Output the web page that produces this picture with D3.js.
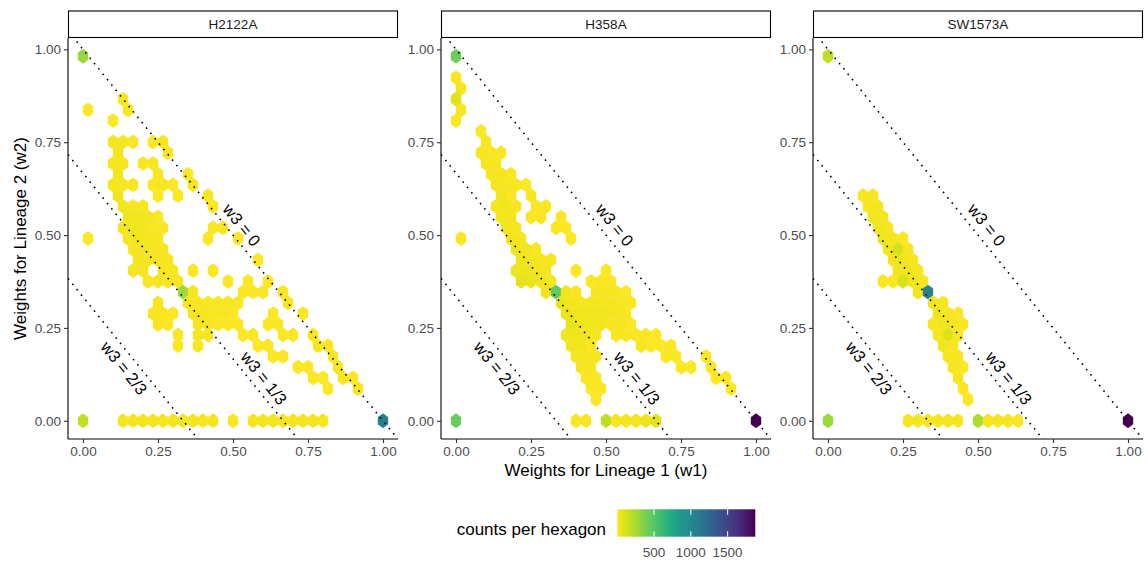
<!DOCTYPE html>
<html>
<head>
<meta charset="utf-8">
<script src="https://cdn.jsdelivr.net/npm/d3@7"></script>
<style>
  body { margin: 0; background: #fff; }
  text { font-family: "Liberation Sans", Arial, Helvetica, sans-serif; }
</style>
</head>
<body>
<svg id="chart" width="1148" height="561"></svg>
<script>
// facets
const panelNames = ['H2122A', 'H358A', 'SW1573A'];
const xTicks = [0, 0.25, 0.5, 0.75, 1];
const yTicks = [0, 0.25, 0.5, 0.75, 1];
const legendTicks = [500, 1000, 1500];
const countRange = [1, 1876];

// reference lines w1 + w2 = 1 - w3
const guideW3 = [0, 1 / 3, 2 / 3];
const guideLabels = ['w3 = 0', 'w3 = 1/3', 'w3 = 2/3'];
const guideLabelW1 = [0.529, 0.603, 0.137];
const guideLabelW2 = [0.527, 0.115, 0.142];

// hexbin cells: [column (w1 = col/60), row (w2 = row * sqrt(3)/60), count]
const h2122aBins = [
  [0,34,290],
  [8,30,20],
  [1,29,15],[9,29,20],
  [6,28,15],
  [6,26,30],[8,26,25],[10,26,20],[14,26,15],[16,26,20],
  [7,25,40],[17,25,15],
  [6,24,30],[8,24,20],[12,24,15],[14,24,20],
  [7,23,35],[15,23,20],[21,23,15],
  [6,22,30],[8,22,25],[10,22,20],[14,22,15],[16,22,20],[18,22,15],[22,22,20],
  [7,21,40],[15,21,15],[19,21,15],[25,21,20],
  [8,20,40],[10,20,30],[12,20,20],[26,20,15],
  [9,19,50],[11,19,40],[13,19,25],[15,19,15],
  [8,18,30],[10,18,50],[12,18,40],[14,18,20],[16,18,15],[26,18,15],[28,18,20],
  [1,17,15],[9,17,20],[11,17,45],[13,17,30],[15,17,20],[25,17,15],[31,17,15],
  [10,16,30],[12,16,40],[14,16,30],[16,16,20],
  [11,15,35],[13,15,30],[15,15,25],[17,15,20],[35,15,15],
  [10,14,25],[12,14,30],[16,14,25],[18,14,20],[22,14,15],[26,14,15],
  [13,13,20],[15,13,25],[17,13,30],[19,13,25],[29,13,15],[33,13,15],[37,13,15],
  [20,12,280],[22,12,30],[32,12,15],[34,12,15],[36,12,15],[40,12,20],
  [15,11,20],[21,11,25],[23,11,25],[25,11,20],[27,11,20],[29,11,20],[31,11,15],[41,11,20],
  [14,10,20],[16,10,20],[18,10,15],[22,10,30],[24,10,25],[26,10,20],[28,10,20],[30,10,15],[38,10,15],[44,10,20],
  [15,9,20],[17,9,15],[23,9,30],[25,9,20],[27,9,15],[29,9,15],[31,9,15],[37,9,15],[39,9,15],
  [19,8,15],[23,8,25],[25,8,20],[32,8,15],[34,8,15],[40,8,15],[42,8,15],[46,8,20],
  [19,7,15],[23,7,20],[35,7,15],[37,7,15],[47,7,20],[49,7,15],
  [38,6,15],[40,6,15],[50,6,20],
  [43,5,15],[45,5,15],[51,5,20],
  [46,4,15],[48,4,15],[52,4,20],[54,4,15],
  [49,3,15],[55,3,20],
  [0,0,170],[8,0,30],[10,0,30],[12,0,35],[14,0,30],[16,0,30],[18,0,35],[20,0,30],[22,0,30],[24,0,30],[26,0,25],
  [30,0,20],[34,0,25],[36,0,30],[38,0,30],[40,0,30],[42,0,30],[44,0,30],[46,0,25],[48,0,25],[60,0,1070]
];

const h358aBins = [
  [0,34,420],
  [0,32,20],[1,31,25],[0,30,90],[1,29,25],[0,28,20],
  [5,27,15],
  [6,26,20],
  [5,25,25],[7,25,20],[9,25,15],
  [6,24,30],[8,24,20],
  [7,23,30],[9,23,25],[11,23,15],
  [8,22,35],[10,22,20],[12,22,20],[14,22,15],
  [9,21,40],[11,21,20],[15,21,20],
  [8,20,25],[10,20,40],[12,20,20],[16,20,20],[18,20,15],
  [9,19,35],[11,19,40],[15,19,15],[17,19,20],[21,19,15],
  [10,18,40],[12,18,30],[20,18,15],[22,18,15],
  [1,17,20],[11,17,40],[13,17,35],[23,17,15],
  [12,16,45],[14,16,40],[16,16,20],
  [13,15,50],[15,15,40],[17,15,30],[19,15,20],
  [12,14,50],[14,14,60],[16,14,40],[18,14,25],[24,14,15],[30,14,15],
  [13,13,80],[15,13,60],[17,13,40],[19,13,30],[27,13,15],[29,13,20],[31,13,15],
  [18,12,50],[20,12,460],[22,12,40],[24,12,20],[28,12,20],[30,12,25],[32,12,20],[34,12,15],
  [21,11,60],[23,11,40],[25,11,30],[27,11,30],[29,11,30],[31,11,30],[33,11,20],[35,11,15],
  [22,10,60],[24,10,50],[26,10,40],[28,10,40],[30,10,40],[32,10,30],[34,10,20],
  [23,9,70],[25,9,50],[27,9,40],[29,9,40],[31,9,30],[33,9,25],[35,9,15],
  [22,8,40],[24,8,50],[26,8,40],[28,8,30],[32,8,20],[34,8,20],[36,8,20],[38,8,15],[40,8,15],
  [23,7,40],[25,7,40],[27,7,20],[37,7,20],[39,7,15],[41,7,15],[43,7,15],
  [24,6,30],[26,6,30],[28,6,20],[42,6,15],[44,6,15],[50,6,15],
  [25,5,25],[27,5,25],[45,5,15],[47,5,15],[51,5,15],
  [26,4,20],[28,4,20],[52,4,15],[54,4,15],
  [27,3,15],[29,3,15],[55,3,15],
  [28,2,15],
  [0,0,440],[24,0,20],[26,0,20],[30,0,190],[32,0,30],[34,0,30],[36,0,30],[38,0,40],[40,0,80],[60,0,1876]
];

const sw1573aBins = [
  [0,34,190],
  [7,21,20],[9,21,20],
  [8,20,30],[10,20,25],
  [9,19,40],[11,19,25],
  [10,18,40],[12,18,30],
  [11,17,40],[13,17,35],[15,17,15],
  [12,16,40],[14,16,130],[16,16,25],
  [13,15,40],[15,15,50],[17,15,20],
  [14,14,40],[16,14,40],[18,14,20],
  [11,13,20],[13,13,20],[15,13,120],[17,13,40],[19,13,20],
  [18,12,40],[20,12,1050],
  [21,11,40],[23,11,20],
  [22,10,40],[24,10,30],[26,10,15],
  [21,9,20],[23,9,40],[25,9,30],[27,9,15],
  [22,8,30],[24,8,100],[26,8,20],
  [23,7,40],[25,7,30],
  [24,6,30],[26,6,20],
  [25,5,25],[27,5,15],
  [26,4,20],
  [27,3,15],
  [28,2,15],
  [0,0,280],[16,0,30],[18,0,30],[20,0,30],[22,0,30],[24,0,25],[26,0,25],
  [30,0,230],[32,0,30],[34,0,30],[36,0,25],[38,0,20],[60,0,1876]
];

const panelBins = [h2122aBins, h358aBins, sw1573aBins];

// layout
const panelLeft = [68, 441, 813];
const panelTop = 38;
const panelW = 330;
const panelH = 401;
const stripH = 27.5;

const binW = 1 / 30;
const rowStep = binW * Math.sqrt(3) / 2;
const hexH = binW * 2 / Math.sqrt(3);

const svg = d3.select('#chart');

const x = d3.scaleLinear().domain([-0.05, 1.05]).range([0, panelW]);
const y = d3.scaleLinear().domain([-0.0491, 1.0306]).range([panelH, 0]);
const color = d3.scaleSequential(t => d3.interpolateViridis(1 - t)).domain(countRange);

const hexPath = (cx, cy) => {
  const pts = [
    [cx, cy + hexH / 2], [cx + binW / 2, cy + hexH / 4], [cx + binW / 2, cy - hexH / 4],
    [cx, cy - hexH / 2], [cx - binW / 2, cy - hexH / 4], [cx - binW / 2, cy + hexH / 4]
  ];
  return 'M' + pts.map(p => x(p[0]) + ',' + y(p[1])).join('L') + 'Z';
};

svg.append('defs').append('clipPath')
  .attr('id', 'panel-clip')
  .append('rect')
  .attr('width', panelW)
  .attr('height', panelH);

panelNames.forEach((name, i) => {
  const g = svg.append('g')
    .attr('transform', 'translate(' + panelLeft[i] + ',' + panelTop + ')');

  // strip
  g.append('rect')
    .attr('x', 0.5)
    .attr('y', -stripH + 0.5)
    .attr('width', panelW - 1)
    .attr('height', stripH - 1)
    .attr('fill', '#fff')
    .attr('stroke', '#000')
    .attr('stroke-width', 1.1);

  g.append('text')
    .attr('x', panelW / 2)
    .attr('y', -stripH / 2)
    .attr('dy', '0.35em')
    .attr('text-anchor', 'middle')
    .attr('font-size', 13.5)
    .attr('fill', '#1a1a1a')
    .text(name);

  const plot = g.append('g').attr('clip-path', 'url(#panel-clip)');

  plot.selectAll('.hex')
    .data(panelBins[i])
    .enter()
    .append('path')
    .attr('class', 'hex')
    .attr('d', d => hexPath(d[0] / 60, d[1] * rowStep))
    .attr('fill', d => color(d[2]))
    .attr('stroke', d => color(d[2]))
    .attr('stroke-width', 0.4);

  // dotted reference lines
  plot.selectAll('.guide')
    .data(guideW3)
    .enter()
    .append('line')
    .attr('class', 'guide')
    .attr('x1', x(-0.05))
    .attr('y1', d => y(1 - d + 0.05))
    .attr('x2', x(1.05))
    .attr('y2', d => y(1 - d - 1.05))
    .attr('stroke', '#000')
    .attr('stroke-width', 1.6)
    .attr('stroke-dasharray', '1.6 5.3');

  const angle = Math.atan2(y(0) - y(1), x(1) - x(0)) * 180 / Math.PI;
  g.selectAll('.guide-label')
    .data(guideLabels)
    .enter()
    .append('text')
    .attr('class', 'guide-label')
    .attr('transform', (d, k) => 'translate(' + x(guideLabelW1[k]) + ',' + y(guideLabelW2[k]) + ') rotate(' + angle + ')')
    .attr('text-anchor', 'middle')
    .attr('dy', '0.35em')
    .attr('font-size', 16.5)
    .attr('fill', '#000')
    .text(d => d);

  // axes
  const yAxis = g.append('g')
    .call(d3.axisLeft(y).tickValues(yTicks).tickFormat(d3.format('.2f')).tickSize(4).tickPadding(3).tickSizeOuter(0));
  const xAxis = g.append('g')
    .attr('transform', 'translate(0,' + panelH + ')')
    .call(d3.axisBottom(x).tickValues(xTicks).tickFormat(d3.format('.2f')).tickSize(4).tickPadding(3).tickSizeOuter(0));

  [xAxis, yAxis].forEach(a => {
    a.select('.domain').attr('stroke', '#000').attr('stroke-width', 1.1);
    a.selectAll('.tick line').attr('stroke', '#333').attr('stroke-width', 1.1);
    a.selectAll('.tick text')
      .attr('fill', '#4d4d4d')
      .attr('font-size', 13.5)
      .style('font-family', '"Liberation Sans", Arial, sans-serif');
  });
  // full-length axis lines
  yAxis.select('.domain').attr('d', 'M0,0V' + panelH);
  xAxis.select('.domain').attr('d', 'M0,0H' + panelW);
});

// axis titles
svg.append('text')
  .attr('x', panelLeft[1] + panelW / 2)
  .attr('y', 476)
  .attr('text-anchor', 'middle')
  .attr('font-size', 17)
  .attr('fill', '#000')
  .text('Weights for Lineage 1 (w1)');

svg.append('text')
  .attr('transform', 'translate(20,' + (panelTop + panelH / 2) + ') rotate(-90)')
  .attr('text-anchor', 'middle')
  .attr('dy', '0.35em')
  .attr('font-size', 17)
  .attr('fill', '#000')
  .text('Weights for Lineage 2 (w2)');

// colourbar legend
const legendX = d3.scaleLinear().domain(countRange).range([617.3, 755.3]);
const barTop = 509.3;
const barH = 27.4;

const grad = svg.select('defs').append('linearGradient')
  .attr('id', 'legend-grad');
grad.selectAll('stop')
  .data(d3.range(0, 1.0001, 0.05))
  .enter()
  .append('stop')
  .attr('offset', d => (d * 100) + '%')
  .attr('stop-color', d => d3.interpolateViridis(1 - d));

svg.append('rect')
  .attr('x', legendX.range()[0])
  .attr('y', barTop)
  .attr('width', legendX.range()[1] - legendX.range()[0])
  .attr('height', barH)
  .attr('fill', 'url(#legend-grad)');

legendTicks.forEach(v => {
  [[barTop, barTop + barH / 5], [barTop + barH * 4 / 5, barTop + barH]].forEach(seg => {
    svg.append('line')
      .attr('x1', legendX(v)).attr('x2', legendX(v))
      .attr('y1', seg[0]).attr('y2', seg[1])
      .attr('stroke', '#fff')
      .attr('stroke-width', 1);
  });
  svg.append('text')
    .attr('x', legendX(v))
    .attr('y', 552)
    .attr('dy', '0.35em')
    .attr('text-anchor', 'middle')
    .attr('font-size', 13.5)
    .attr('fill', '#4d4d4d')
    .text(v);
});

svg.append('text')
  .attr('x', 456.7)
  .attr('y', barTop + barH / 2 + 12)
  .attr('font-size', 17)
  .attr('fill', '#000')
  .text('counts per hexagon');
</script>
</body>
</html>
